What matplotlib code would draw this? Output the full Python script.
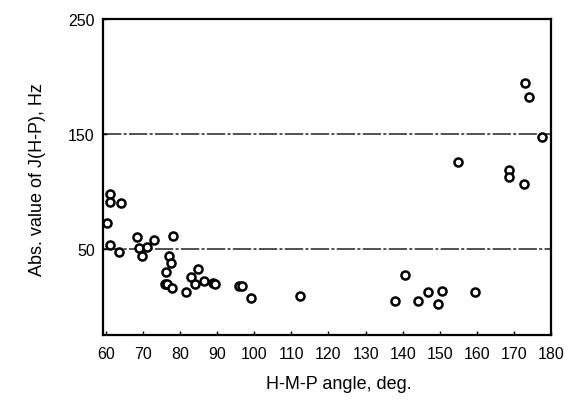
import matplotlib
matplotlib.use("Agg")
import matplotlib.pyplot as plt

# H-M-P angle (deg) and |J(H-P)| (Hz)
angle = [60.2, 61.1, 61.1, 64.0, 61.1, 63.6, 68.5, 69.0, 69.8, 71.0, 72.9, 78.1,
         76.9, 77.6, 76.1, 84.7, 83.0, 76.0, 76.5, 77.8, 83.9, 86.3, 81.6, 88.8,
         89.4, 95.9, 96.8, 99.1, 112.3,
         140.6, 138.0, 144.1, 146.7, 150.7, 149.6, 159.6,
         154.8, 168.7, 168.8, 172.6, 172.9, 174.0, 177.7]
jhp = [72.7, 97.9, 90.5, 90.2, 53.5, 46.8, 60.2, 50.6, 44.1, 52.0, 57.9, 60.8,
       44.1, 37.5, 29.9, 32.8, 25.5, 19.8, 19.2, 16.1, 19.1, 22.0, 12.6, 20.5,
       19.4, 17.9, 17.9, 7.4, 9.1,
       27.5, 4.2, 4.8, 12.1, 13.5, 1.9, 12.1,
       125.2, 118.5, 112.7, 106.3, 194.4, 182.4, 146.9]

yticks = [50, 150, 250]
xticks = list(range(60, 181, 10))
ref_lines = [50, 150]

fig = plt.figure(figsize=(5.64, 4.02), dpi=100)
ax = fig.add_axes([103/564, 66/402, 448/564, 316/402])

for y in ref_lines:
    ax.axhline(y, color="#222222", lw=1.1, ls=(0, (12, 1.5, 2, 1.5)), zorder=1)

ax.plot(angle, jhp, linestyle="none", marker="o", markersize=5.8,
        markerfacecolor="white", markeredgecolor="black", markeredgewidth=1.8,
        zorder=3)

ax.set_xlim(59.2, 180)
ax.set_ylim(-25, 250)
ax.set_xticks(xticks)
ax.set_yticks(yticks)

tick_font = dict(family=["Liberation Sans", "DejaVu Sans"], size=11.5)
ax.set_xticklabels([str(t) for t in xticks], **tick_font)
ax.set_yticklabels([str(t) for t in yticks], **tick_font)
ax.tick_params(axis="both", direction="in", length=3, width=1)
ax.tick_params(axis="x", pad=8)
ax.tick_params(axis="y", pad=6)

for s in ax.spines.values():
    s.set_linewidth(1.6)
    s.set_color("black")

label_font = dict(family=["Liberation Sans", "DejaVu Sans"], size=13)
ax.set_xlabel("H-M-P angle, deg.", **label_font)
ax.set_ylabel("Abs. value of J(H-P), Hz", **label_font)
ax.xaxis.set_label_coords((339 - 103) / 448, -(385 - 336) / 316)
ax.yaxis.set_label_coords(-(103 - 38) / 448, (336 - 180) / 316)
ax.xaxis.label.set_va("center")
ax.yaxis.label.set_va("center")

fig.savefig("out.png", dpi=100)
